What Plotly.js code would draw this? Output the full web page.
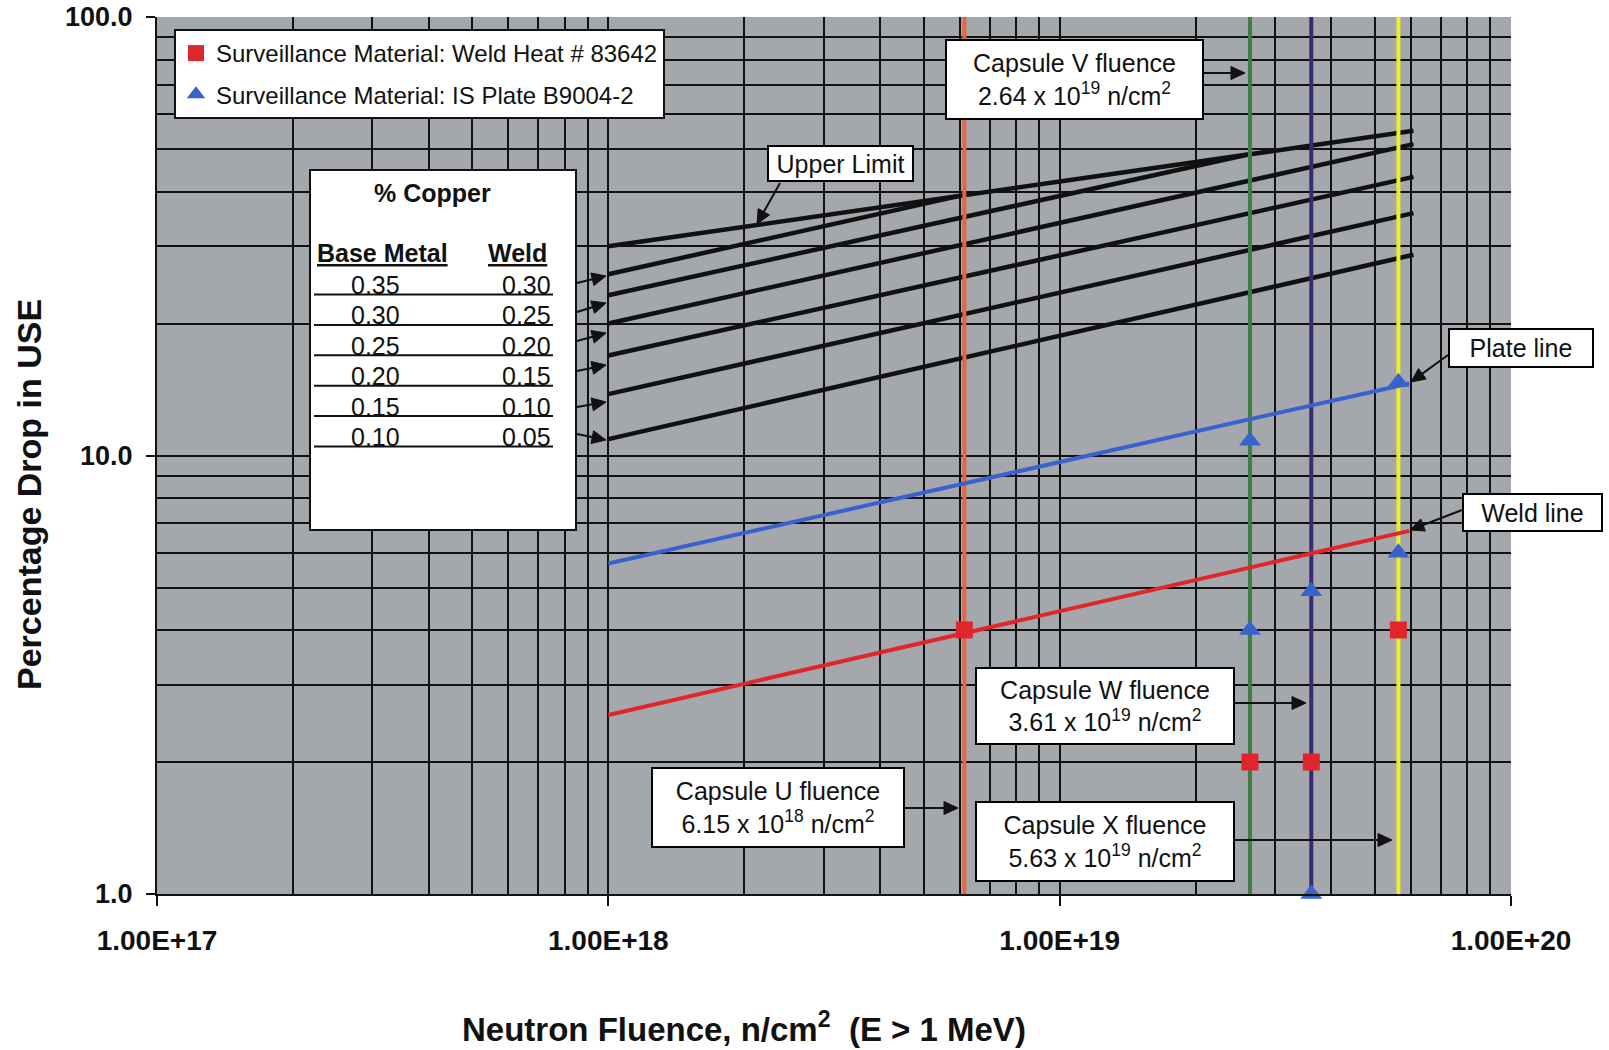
<!DOCTYPE html>
<html><head><meta charset="utf-8">
<script src="https://cdn.plot.ly/plotly-3.0.1.min.js"></script>
<style>html,body{margin:0;padding:0;background:#fff;} #chart{width:1609px;height:1050px;}</style>
</head><body><div id="chart"></div>
<script>
// ---------------- data ----------------
const xTickVals = [1e17, 1e18, 1e19, 1e20];
const xTickText = ['1.00E+17', '1.00E+18', '1.00E+19', '1.00E+20'];
const yTickVals = [1, 10, 100];
const yTickText = ['1.0', '10.0', '100.0'];

const upperLimitX = [1e18, 6.08e19];
const upperLimitY = [30.0, 55.0];

const copperBase = ['0.35', '0.30', '0.25', '0.20', '0.15', '0.10'];
const copperWeld = ['0.30', '0.25', '0.20', '0.15', '0.10', '0.05'];
const copperStartX = [1e18, 1e18, 1e18, 1e18, 1e18, 1e18];
const copperStartY = [25.9, 23.2, 20.0, 16.9, 13.8, 10.9];
const copperEndX = [6.0e18, 2.6e19, 6.08e19, 6.08e19, 6.08e19, 6.08e19];
const copperEndY = [39.1, 48.5, 51.3, 43.2, 35.7, 28.7];

const capsuleNames = ['U', 'V', 'W', 'X'];
const capsuleFluence = [6.15e18, 2.64e19, 3.61e19, 5.63e19];
const capsuleMantissa = ['6.15', '2.64', '3.61', '5.63'];
const capsuleExponent = ['18', '19', '19', '19'];

const plateLineX = [1e18, 5.95e19];
const plateLineY = [5.67, 14.6];
const weldLineX = [1e18, 5.95e19];
const weldLineY = [2.56, 6.73];

const weldPointsX = [6.15e18, 2.64e19, 3.61e19, 5.63e19];
const weldPointsY = [4.0, 2.0, 2.0, 4.0];
const platePointsX = [2.64e19, 2.64e19, 3.61e19, 3.61e19, 5.63e19, 5.63e19];
const platePointsY = [10.8, 4.0, 4.9, 1.0, 14.7, 6.0];

const weldName = 'Surveillance Material: Weld Heat # 83642';
const plateName = 'Surveillance Material: IS Plate B9004-2';

// ---------------- layout helpers ----------------
const FONT = 'Liberation Sans, Arial, Helvetica, sans-serif';
const W = 1609, H = 1050;
const PL = 157, PR = 1511, PT = 17, PB = 894;
const px = X => (X - PL) / (PR - PL);
const py = Y => (PB - Y) / (PB - PT);

const capsuleColors = ['#e8643c', '#3f7d45', '#3b2a72', '#eeee2a'];

const traces = [];

// upper limit
traces.push({x: upperLimitX, y: upperLimitY, mode: 'lines', line: {color: '#111', width: 4.5}, showlegend: false, hoverinfo: 'skip'});
// copper lines
for (let i = 0; i < copperStartY.length; i++) {
  traces.push({x: [copperStartX[i], copperEndX[i]], y: [copperStartY[i], copperEndY[i]],
    mode: 'lines', line: {color: '#111', width: 4.5}, showlegend: false, hoverinfo: 'skip'});
}
// capsule fluence lines
for (let i = 0; i < capsuleFluence.length; i++) {
  traces.push({x: [capsuleFluence[i], capsuleFluence[i]], y: [1, 100], mode: 'lines',
    line: {color: capsuleColors[i], width: 4}, showlegend: false, hoverinfo: 'skip', cliponaxis: false});
}
// plate & weld trend lines
traces.push({x: plateLineX, y: plateLineY, mode: 'lines', line: {color: '#3a62cc', width: 4}, showlegend: false});
traces.push({x: weldLineX, y: weldLineY, mode: 'lines', line: {color: '#e0262a', width: 4}, showlegend: false});
// data points
traces.push({x: weldPointsX, y: weldPointsY, mode: 'markers', name: weldName, legendgroup: 'w',
  marker: {symbol: 'square', size: 17, color: '#e0262a'}, cliponaxis: false});
traces.push({x: platePointsX, y: platePointsY, mode: 'markers', name: plateName, legendgroup: 'p',
  marker: {symbol: 'triangle-up', size: 19, color: '#3a62cc'}, cliponaxis: false});

// minor grid values
const minorX = [], minorY = [];
for (let e = 17; e < 20; e++) for (let d = 2; d <= 9; d++) minorX.push(d * Math.pow(10, e));
for (let e = 0; e < 2; e++) for (let d = 2; d <= 9; d++) minorY.push(d * Math.pow(10, e));

const annotations = [];
const shapes = [];
function box(x0, x1, y0, y1, text, size) {
  annotations.push({xref: 'paper', yref: 'paper', x: px((x0 + x1) / 2), y: py((y0 + y1) / 2),
    xanchor: 'center', yanchor: 'middle', text: text, showarrow: false, bgcolor: 'white',
    bordercolor: 'black', borderwidth: 2, borderpad: 0, width: x1 - x0 - 4, height: y1 - y0 - 4,
    font: {family: FONT, size: size || 25, color: '#111'}});
}
function label(X, Y, text, anchor, size) {
  annotations.push({xref: 'paper', yref: 'paper', x: px(X), y: py(Y), xanchor: anchor || 'center',
    yanchor: 'middle', text: text, showarrow: false, font: {family: FONT, size: size || 25, color: '#111'}});
}
// arrow drawn as a line plus a filled head (tail -> tip, in page pixels)
function arrow(sx, sy, tx, ty) {
  const dx = tx - sx, dy = ty - sy, len = Math.hypot(dx, dy);
  const ux = dx / len, uy = dy / len;
  const hl = 14, hw = 6.5;
  const bx = tx - ux * hl, by = ty - uy * hl;
  shapes.push({type: 'line', xref: 'paper', yref: 'paper', x0: px(sx), y0: py(sy), x1: px(bx + ux * 2), y1: py(by + uy * 2),
    line: {color: '#111', width: 2}, layer: 'above'});
  const p = [[tx, ty], [bx - uy * hw, by + ux * hw], [bx + uy * hw, by - ux * hw]];
  shapes.push({type: 'path', xref: 'paper', yref: 'paper',
    path: 'M' + p.map(q => px(q[0]) + ',' + py(q[1])).join('L') + 'Z',
    fillcolor: '#111', line: {color: '#111', width: 1}, layer: 'above'});
}
function capText(i) {
  return 'Capsule ' + capsuleNames[i] + ' fluence<br>' + capsuleMantissa[i] + ' x 10<sup>' +
    capsuleExponent[i] + '</sup> n/cm<sup>2</sup>';
}

// copper table
shapes.push({type: 'rect', xref: 'paper', yref: 'paper', x0: px(310), x1: px(576), y0: py(170), y1: py(530),
  fillcolor: 'white', line: {color: '#111', width: 2}, layer: 'above'});
label(432, 193, '<b>% Copper</b>');
label(382, 253, '<b><u>Base Metal</u></b>');
label(517, 253, '<b><u>Weld</u></b>');
const tableTipY = [276, 303, 333, 365, 402, 440];
const tableTailY = [283, 312, 341, 371, 407, 434];
for (let i = 0; i < copperBase.length; i++) {
  const rowY = 285 + 30.4 * i;
  label(375, rowY, copperBase[i]);
  label(553, rowY, copperWeld[i], 'right');
  shapes.push({type: 'line', xref: 'paper', yref: 'paper', x0: px(314), x1: px(553), y0: py(rowY + 9.5), y1: py(rowY + 9.5),
    line: {color: '#111', width: 2}, layer: 'above'});
  arrow(577, tableTailY[i], 606, tableTipY[i]);
}

// capsule boxes + arrows
box(651, 905, 767, 848, capText(0));   // U
box(945, 1204, 39, 120, capText(1));   // V
box(975, 1235, 667, 745, capText(2));  // W
box(975, 1235, 801, 882, capText(3));  // X
arrow(905, 808, 958, 808);
arrow(1204, 73, 1245, 73);
arrow(1235, 703, 1306, 703);
arrow(1235, 840, 1392, 840);

// labels for lines
box(767, 914, 145, 182, 'Upper Limit');
arrow(780, 183, 757, 224);
box(1448, 1594, 328, 368, 'Plate line');
arrow(1448, 355, 1411, 382);
box(1462, 1603, 493, 532, 'Weld line');
arrow(1462, 510, 1410, 530);

// axis titles (positioned like the original)
label(744, 1027, '<b>Neutron Fluence, n/cm<sup>2</sup>  (E &gt; 1 MeV)</b>', 'center', 33);
annotations.push({xref: 'paper', yref: 'paper', x: px(29), y: py(495), xanchor: 'center', yanchor: 'middle',
  text: '<b>Percentage Drop in USE</b>', textangle: -90, showarrow: false,
  font: {family: FONT, size: 34, color: '#111'}});

const axisCommon = {
  type: 'log', showgrid: true, gridcolor: '#111', gridwidth: 2,
  showline: true, linecolor: '#111', linewidth: 2,
  ticks: 'outside', tickcolor: '#111', tickwidth: 2, tickmode: 'array',
  zeroline: false, fixedrange: true
};

const layout = {
  width: W, height: H,
  margin: {l: PL, r: W - PR, t: PT, b: H - PB, pad: 0},
  paper_bgcolor: 'white', plot_bgcolor: '#a4a8ac',
  font: {family: FONT, color: '#111'},
  xaxis: Object.assign({}, axisCommon, {
    range: [17, 20], tickvals: xTickVals, ticktext: xTickText, ticklen: 10, ticklabelstandoff: 10,
    tickfont: {family: FONT, size: 28, weight: 'bold', color: '#111'},
    minor: {tickmode: 'array', tickvals: minorX, showgrid: true, gridcolor: '#111', gridwidth: 2, ticks: ''}
  }),
  yaxis: Object.assign({}, axisCommon, {
    range: [0, 2], tickvals: yTickVals, ticktext: yTickText, ticklen: 9, ticklabelstandoff: 8,
    tickfont: {family: FONT, size: 27, weight: 'bold', color: '#111'},
    minor: {tickmode: 'array', tickvals: minorY, showgrid: true, gridcolor: '#111', gridwidth: 2, ticks: ''}
  }),
  showlegend: true,
  legend: {x: px(174), y: py(29), xanchor: 'left', yanchor: 'top', bgcolor: 'white',
    bordercolor: '#111', borderwidth: 2, traceorder: 'grouped', tracegroupgap: 7,
    font: {family: FONT, size: 24, color: '#111'}},
  annotations: annotations,
  shapes: shapes
};

Plotly.newPlot('chart', traces, layout, {displayModeBar: false, staticPlot: true});
</script>
</body></html>
